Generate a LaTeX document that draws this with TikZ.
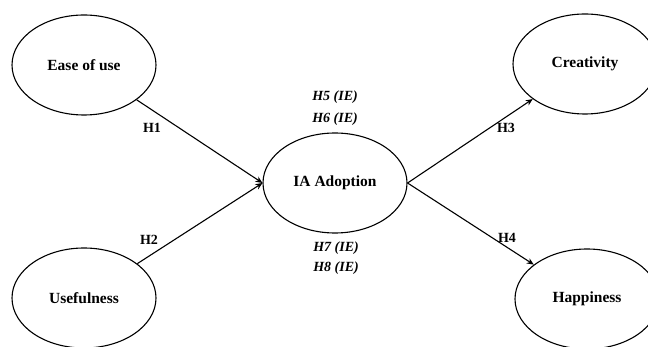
\documentclass[tikz,border=0pt]{standalone}
\usepackage{fontspec}
\setmainfont{Liberation Serif}
\usetikzlibrary{shapes.geometric,arrows.meta}
\begin{document}
\begin{tikzpicture}[x=1pt,y=-1pt,
    construct/.style={ellipse,draw,line width=1.1pt,minimum width=144pt,minimum height=100pt,inner sep=0pt,font=\fontsize{15.5}{18}\selectfont\bfseries},
    hyp/.style={font=\fontsize{14}{16}\selectfont\bfseries},
    med/.style={font=\fontsize{14}{16}\selectfont\bfseries\itshape},
    path/.style={line width=1.1pt,-{Stealth[length=7pt,width=6pt]}}]
      \useasboundingbox (0,0) rectangle (648,347);
      \node[construct] (ease) at (84,65) {Ease of use};
      \node[construct] (useful) at (84,298) {Usefulness};
      \node[construct] (adopt) at (335,183) {IA Adoption};
      \node[construct] (creat) at (585,64) {Creativity};
      \node[construct] (happy) at (587,299) {Happiness};
      \node[hyp] (h1) at (152,128) {H1};
      \node[hyp] (h2) at (149,240) {H2};
      \node[hyp] (h3) at (506,128) {H3};
      \node[hyp] (h4) at (507,238) {H4};
      \node[med] (h5) at (335,97) {H5 (IE)};
      \node[med] (h6) at (335,119) {H6 (IE)};
      \node[med] (h7) at (336,248) {H7 (IE)};
      \node[med] (h8) at (336,268) {H8 (IE)};
      \draw[path] (ease) -- (adopt.west);
      \draw[path] (useful) -- (adopt.west);
      \draw[path] (adopt.east) -- (creat);
      \draw[path] (adopt.east) -- (happy);
    \end{tikzpicture}
\end{document}
